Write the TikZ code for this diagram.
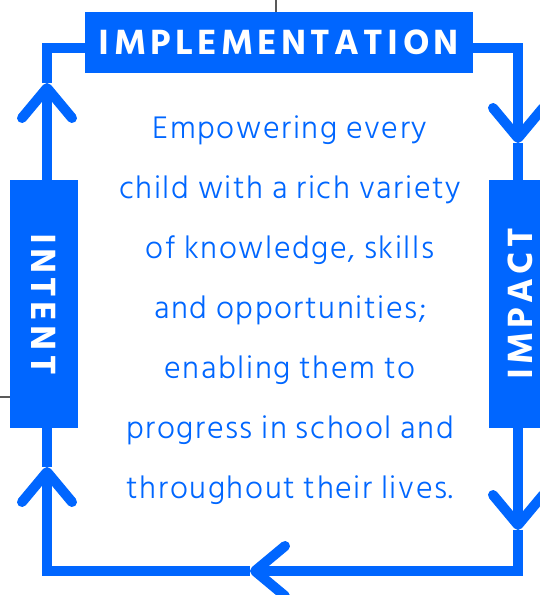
\documentclass[tikz,border=0pt]{standalone}
\usepackage{fontspec}
\setmainfont{Hind Siliguri}[UprightFont=* Light, LetterSpace=5]
\newfontfamily\headfont{Hind Siliguri}[UprightFont=* Bold, LetterSpace=12]
\usetikzlibrary{arrows.meta}
\definecolor{cycleblue}{HTML}{0066FF}
\tikzset{
  stage/.style={fill=cycleblue, text=white, inner sep=0pt,
    font=\headfont\fontsize{36}{36}\selectfont},
  loop/.style={draw=cycleblue, line width=10pt},
  barb/.style={-{Straight Barb[length=30pt, width=50pt, round]}},
  stub/.style={draw=black!65, line width=1.2pt},
}
\begin{document}
\begin{tikzpicture}[x=1pt, y=-1pt]
  \useasboundingbox (0,0) rectangle (540,595);
  \clip (0,0) rectangle (540,595);

  % the three stages
  \node[stage, minimum width=388pt, minimum height=61pt] (impl) at (279,42.5) {IMPLEMENTATION};
  \node[stage, minimum width=248pt, minimum height=68pt, rotate=-90] (intent) at (44,304) {INTENT};
  \node[stage, minimum width=248pt, minimum height=62pt, rotate=90] (impact) at (520,304) {IMPACT};

  \node[text=cycleblue, align=center, font=\fontsize{32}{60}\selectfont] (aim) at (290,310)
    {Empowering every\\child with a rich variety\\of knowledge, skills\\and opportunities;\\
     enabling them to\\progress in school and\\throughout their lives.};

  % corners and arrow tips of the loop
  \coordinate (nw) at (47,48);
  \coordinate (ne) at (518,48);
  \coordinate (se) at (518,571);
  \coordinate (sw) at (47,571);
  \coordinate (tipne) at (518,143);
  \coordinate (tipse) at (518,530);
  \coordinate (tips) at (250,571);
  \coordinate (tipsw) at (47,467);
  \coordinate (tipnw) at (47,83);

  \draw[loop, barb] (impl.east |- ne) -- (ne) -- (tipne);
  \draw[loop] (tipne) -- (ne |- impact.east);
  \draw[loop, barb] (se |- impact.west) -- (tipse);
  \draw[loop, barb] (tipse) -- (se) -- (tips);
  \draw[loop, barb] (tips) -- (sw) -- (tipsw);
  \draw[loop] (tipsw) -- (sw |- intent.east);
  \draw[loop, barb] (sw |- intent.west) -- (tipnw);
  \draw[loop] (tipnw) -- (nw) -- (impl.west |- nw);

  % loose ends
  \coordinate (topstub) at (276,0);
  \coordinate (sidestub) at (0,397);
  \draw[stub] (topstub) -- (topstub |- impl.north);
  \draw[stub] (sidestub) -- (sidestub -| intent.south);
\end{tikzpicture}
\end{document}
